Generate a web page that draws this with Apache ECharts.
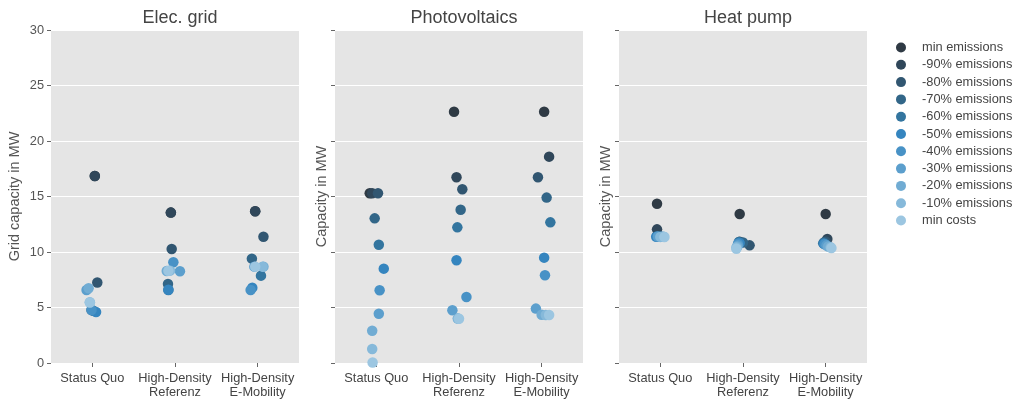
<!DOCTYPE html>
<html>
<head>
<meta charset="utf-8">
<script src="https://cdn.jsdelivr.net/npm/echarts@6/dist/echarts.min.js"></script>
<style>html,body{margin:0;padding:0;background:#fff}#c{width:1024px;height:404px}</style>
</head>
<body>
<div id="c"></div>
<script>
const categories = ['Status Quo', 'High-Density\nReferenz', 'High-Density\nE-Mobility'];
const seriesNames = ['min emissions', '-90% emissions', '-80% emissions', '-70% emissions', '-60% emissions',
  '-50% emissions', '-40% emissions', '-30% emissions', '-20% emissions', '-10% emissions', 'min costs'];
const panelTitles = ['Elec. grid', 'Photovoltaics', 'Heat pump'];
const yAxisNames = ['Grid capacity in MW', 'Capacity in MW', 'Capacity in MW'];
const palette = ['#2f3a44', '#30475a', '#315671', '#326688', '#33759f', '#3585bf',
  '#4892c6', '#5c9fcd', '#71acd3', '#86b9da', '#9cc6e1'];

// values [category][series]
const gridValues = [
  [16.85, 16.85, 7.25, 4.77, 4.7, 4.6, 4.77, 6.58, 6.73, 5.47, 5.45],
  [13.55, 13.55, 10.27, 7.12, 6.58, 6.6, 9.07, 8.26, 8.29, 8.32, 8.3],
  [13.67, 13.67, 11.38, 9.4, 7.87, 6.79, 6.58, 8.68, 8.68, 8.68, 8.68]
];
const pvValues = [
  [15.29, 15.29, 15.29, 13.03, 10.66, 8.5, 6.55, 4.44, 2.91, 1.26, 0.05],
  [22.64, 16.73, 15.65, 13.81, 12.22, 9.25, 5.95, 4.75, 4.0, 4.0, 3.99],
  [22.64, 18.59, 16.73, 14.9, 12.67, 9.49, 7.9, 4.9, 4.35, 4.33, 4.33]
];
const hpValues = [
  [14.35, 12.04, 11.45, 11.4, 11.38, 11.38, 11.38, 11.4, 11.38, 11.36, 11.35],
  [13.42, 10.93, 10.6, 10.85, 10.9, 10.8, 10.75, 10.6, 10.5, 10.4, 10.3],
  [13.42, 11.17, 10.95, 10.85, 10.78, 10.75, 10.7, 10.6, 10.5, 10.42, 10.35]
];
// horizontal strip jitter [category][series]
const gridJitter = [
  [0.03, 0.03, 0.06, -0.01, 0.01, 0.045, -0.01, -0.07, -0.045, -0.03, -0.03],
  [-0.05, -0.05, -0.04, -0.085, -0.08, -0.08, -0.02, 0.06, -0.10, -0.06, -0.08],
  [-0.03, -0.03, 0.07, -0.07, 0.04, -0.065, -0.085, -0.04, 0.07, 0.06, -0.03]
];
const pvJitter = [
  [-0.08, -0.05, 0.02, -0.02, 0.03, 0.09, 0.04, 0.03, -0.05, -0.05, -0.045],
  [-0.06, -0.03, 0.04, 0.02, -0.02, -0.03, 0.09, -0.08, -0.015, -0.01, 0.0],
  [0.03, 0.09, -0.045, 0.06, 0.105, 0.03, 0.04, -0.07, 0.0, 0.05, 0.09]
];
const hpJitter = [
  [-0.04, -0.04, -0.04, -0.02, 0.0, -0.05, 0.02, -0.03, 0.04, 0.0, 0.05],
  [-0.04, -0.04, 0.08, 0.0, -0.05, -0.04, -0.06, -0.06, -0.07, -0.08, -0.08],
  [0.0, 0.02, 0.0, -0.02, -0.03, -0.02, -0.01, 0.01, 0.03, 0.06, 0.07]
];

const panelValues = [gridValues, pvValues, hpValues];
const panelJitter = [gridJitter, pvJitter, hpJitter];
const FONT = 'Liberation Sans, Arial, sans-serif';
const gridLefts = [51, 335, 619];
const gridWidth = 248;

const grids = [], xAxes = [], yAxes = [], titles = [], series = [];
for (let p = 0; p < 3; p++) {
  grids.push({left: gridLefts[p], top: 30, width: gridWidth, height: 333, show: true,
    backgroundColor: '#e5e5e5', borderWidth: 0, containLabel: false});
  titles.push({text: panelTitles[p], left: gridLefts[p] + gridWidth / 2, top: 4, textAlign: 'center',
    textStyle: {fontFamily: FONT, fontSize: 18, fontWeight: 'normal', color: '#444'}});
  // visible category axis (labels & ticks)
  xAxes.push({type: 'category', gridIndex: p, data: categories, boundaryGap: true, position: 'bottom',
    axisLine: {show: false, onZero: false}, axisTick: {show: true, alignWithLabel: true, length: 4, lineStyle: {color: '#666'}},
    axisLabel: {fontFamily: FONT, fontSize: 12.8, color: '#444', margin: 8, lineHeight: 14, interval: 0},
    splitLine: {show: false}});
  // hidden numeric axis for jittered positions
  xAxes.push({type: 'value', gridIndex: p, min: -0.5, max: 2.5, show: false, splitLine: {show: false},
    axisLine: {onZero: false}});
  yAxes.push({type: 'value', gridIndex: p, min: 0, max: 30, interval: 5, position: 'left',
    name: yAxisNames[p], nameLocation: 'middle', nameGap: p === 0 ? 29 : 6, nameRotate: 90,
    nameTextStyle: {fontFamily: FONT, fontSize: 14.5, color: '#555'},
    axisLine: {show: false, onZero: false}, axisTick: {show: true, length: 4, lineStyle: {color: '#666'}},
    axisLabel: {show: p === 0, fontFamily: FONT, fontSize: 12.8, color: '#555', margin: 7},
    splitLine: {show: true, lineStyle: {color: '#ffffff', width: 1}}});
  for (let s = 0; s < seriesNames.length; s++) {
    const data = [];
    for (let c = 0; c < categories.length; c++) {
      data.push([c + panelJitter[p][c][s], panelValues[p][c][s]]);
    }
    series.push({name: seriesNames[s], type: 'scatter', xAxisIndex: p * 2 + 1, yAxisIndex: p,
      data: data, symbol: 'circle', symbolSize: 10.5, itemStyle: {color: palette[s], opacity: 1},
      emphasis: {disabled: true}, z: 2 + s});
  }
}

const chart = echarts.init(document.getElementById('c'), null, {renderer: 'canvas'});
chart.setOption({
  animation: false,
  title: titles,
  grid: grids,
  xAxis: xAxes,
  yAxis: yAxes,
  color: palette,
  legend: {orient: 'vertical', left: 891, top: 34, data: seriesNames, icon: 'circle',
    itemWidth: 10, itemHeight: 10, itemGap: 0.3,
    textStyle: {fontFamily: FONT, fontSize: 12.8, color: '#444', lineHeight: 17, padding: [0, 0, 0, 11]}},
  series: series
});
</script>
</body>
</html>
